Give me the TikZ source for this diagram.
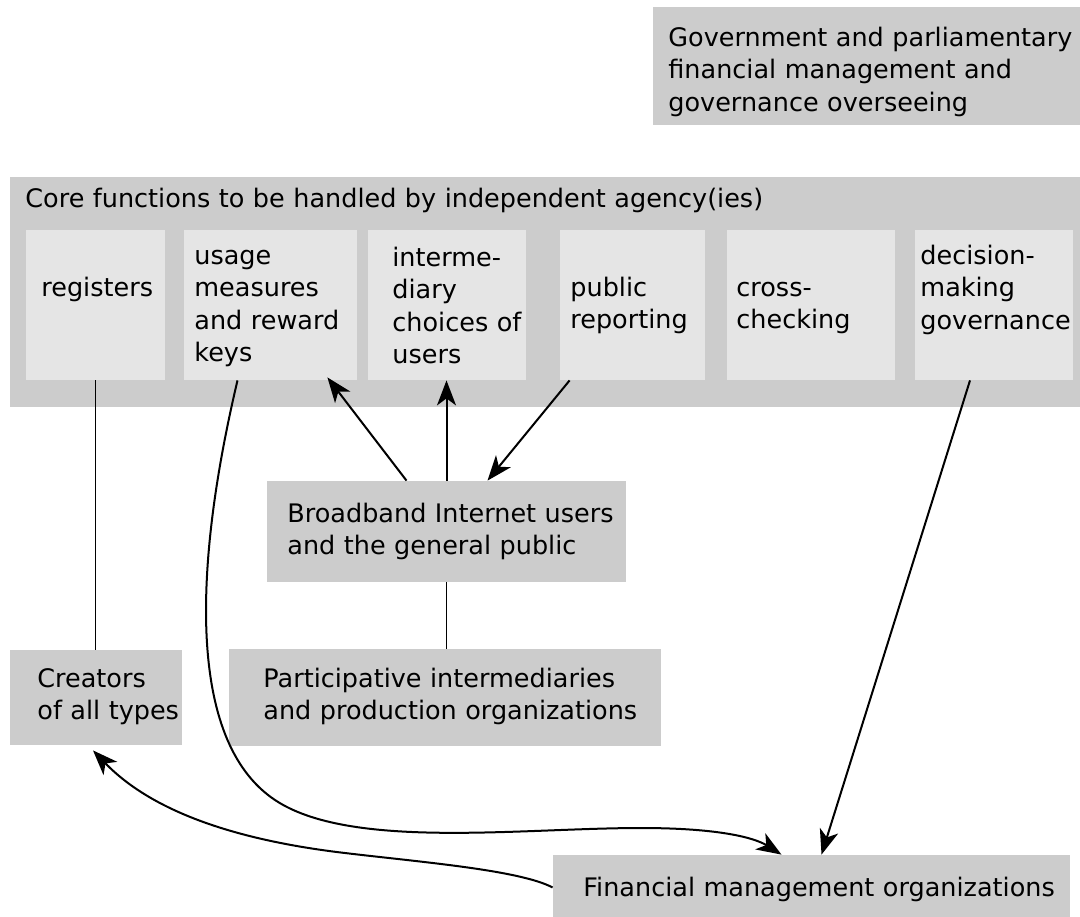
\documentclass[tikz,border=0pt]{standalone}
\usepackage{fontspec}
\setmainfont{DejaVu Sans}
\usetikzlibrary{arrows.meta,calc,fit}
\definecolor{boxgray}{HTML}{CCCCCC}
\definecolor{cellgray}{HTML}{E5E5E5}
\begin{document}
\begin{tikzpicture}[x=0.5pt,y=-0.5pt,
  outbox/.style={fill=boxgray,inner sep=0pt},
  cell/.style={fill=cellgray,inner sep=0pt},
  lbl/.style={anchor=base west,inner sep=0pt,text width=500pt,align=left,
    font=\fontsize{12.75}{16.3}\selectfont},
  link/.style={line width=1pt,-{Stealth[length=12.5pt,width=9.5pt,inset=3.5pt]}},
  joint/.style={line width=0.9pt}]
\useasboundingbox (0,0) rectangle (1080,916);
% boxes
\node[outbox,fit={(653,7) (1085,125)}] (gov) {};
\node[outbox,fit={(10,177) (1085,407)}] (core) {};
\node[cell,fit={(26,230) (165,380)}] (reg) {};
\node[cell,fit={(184,230) (357,380)}] (use) {};
\node[cell,fit={(368,230) (526,380)}] (int) {};
\node[cell,fit={(560,230) (705,380)}] (pub) {};
\node[cell,fit={(727,230) (895,380)}] (cross) {};
\node[cell,fit={(915,230) (1073,380)}] (dec) {};
\node[outbox,fit={(267,481) (626,582)}] (bb) {};
\node[outbox,fit={(10,650) (182,745)}] (cre) {};
\node[outbox,fit={(229,649) (661,746)}] (part) {};
\node[outbox,fit={(553,855) (1070,920)}] (fin) {};
% texts
\node[lbl] (gov-t) at (668,46) {Government and parliamentary\\financial management and\\governance overseeing};
\node[lbl] (core-t) at (25,207) {Core functions to be handled by independent agency(ies)};
\node[lbl] (reg-t) at (41,296) {registers};
\node[lbl] (use-t) at (194,264) {usage\\measures\\and reward\\keys};
\node[lbl] (int-t) at (392,266) {interme-\\diary\\choices of\\users};
\node[lbl] (pub-t) at (570,296) {public\\reporting};
\node[lbl] (cross-t) at (736,296) {cross-\\checking};
\node[lbl] (dec-t) at (920,264) {decision-\\making\\governance};
\node[lbl] (bb-t) at (287,522) {Broadband Internet users\\and the general public};
\node[lbl] (cre-t) at (37,687) {Creators\\of all types};
\node[lbl] (part-t) at (263,687) {Participative intermediaries\\and production organizations};
\node[lbl] (fin-t) at (583,896) {Financial management organizations};
% connectors
\draw[joint] (reg.south) -- (reg.south |- cre.north);
\draw[joint] (bb.south) -- (bb.south |- part.north);
\draw[link] ($(bb.north)+(-40,0)$) -- ($(use.south east)+(-30,-3)$);
\draw[link] (bb.north) -- (bb.north |- int.south);
\draw[link] ($(pub.south west)+(10,0)$) -- ($(bb.north)+(41,0)$);
\draw[link] ($(dec.south)+(-24,0)$) -- ($(fin.north)+(10,0)$);
\draw[link] ($(use.south)+(-33,0)$) .. controls (195,560) and (185,740) .. (275,800)
  .. controls (350,850) and (520,828) .. (641,828)
  .. controls (720,828) and (755,838) .. ($(fin.north)+(-30,0)$);
\draw[link] (fin.west) .. controls (520,870) and (420,862) .. (345,853)
  .. controls (260,843) and (160,820) .. ($(cre.south)+(-3,5)$);
\end{tikzpicture}
\end{document}
